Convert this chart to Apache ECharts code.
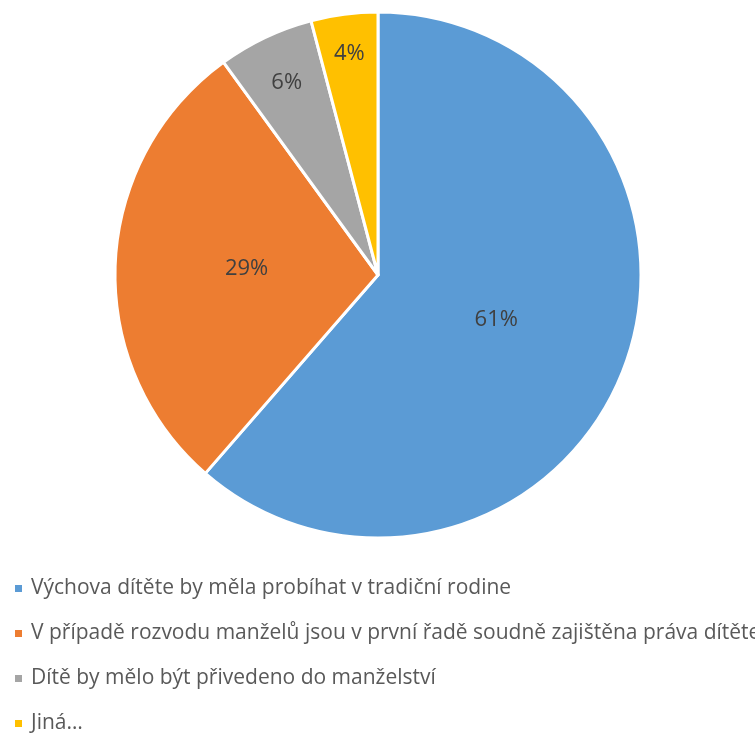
<!DOCTYPE html>
<html><head><meta charset="utf-8">
<script src="https://cdn.jsdelivr.net/npm/echarts@6/dist/echarts.min.js"></script>
<style>html,body{margin:0;padding:0;background:#fff}#c{width:755px;height:734px}</style>
</head><body><div id="c"></div>
<script>
const categories = [
  'Výchova dítěte by měla probíhat v tradiční rodine',
  'V případě rozvodu manželů jsou v první řadě soudně zajištěna práva dítěte',
  'Dítě by mělo být přivedeno do manželství',
  'Jiná…'
];
const values = [61.4, 28.6, 5.9, 4.1];
const colors = ['#5B9BD5', '#ED7D31', '#A5A5A5', '#FFC000'];

const CX = 378, CY = 275, R = 263;
const chart = echarts.init(document.getElementById('c'), null, {renderer: 'canvas'});
chart.setOption({
  animation: false,
  color: colors,
  legend: {
    orient: 'vertical', left: 8, top: 573, height: 200, padding: 5,
    icon: 'rect', itemWidth: 9, itemHeight: 9, itemGap: 24,
    textStyle: {fontFamily: 'Open Sans, Liberation Sans, sans-serif', fontSize: 21, color: '#595959', padding: [0, 0, 0, 3]},
    data: categories
  },
  series: [{
    type: 'pie',
    center: [CX, CY], radius: R,
    startAngle: 90, clockwise: true,
    percentPrecision: 0,
    itemStyle: {borderColor: '#fff', borderWidth: 3},
    label: {position: 'inside', formatter: '{d}%', color: '#404040', fontSize: 22,
      fontFamily: 'Open Sans, Liberation Sans, sans-serif'},
    labelLayout: function (p) {
      const frac = [0.48, 0.5, 0.81, 0.85][p.dataIndex];
      const lx = p.labelRect.x + p.labelRect.width / 2;
      const ly = p.labelRect.y + p.labelRect.height / 2;
      const dx = lx - CX, dy = ly - CY;
      const d = Math.sqrt(dx * dx + dy * dy) || 1;
      const t = frac * R / d;
      return {x: CX + dx * t, y: CY + dy * t, align: 'center', verticalAlign: 'middle'};
    },
    labelLine: {show: false},
    data: categories.map((n, i) => ({name: n, value: values[i]}))
  }]
});
</script></body></html>
